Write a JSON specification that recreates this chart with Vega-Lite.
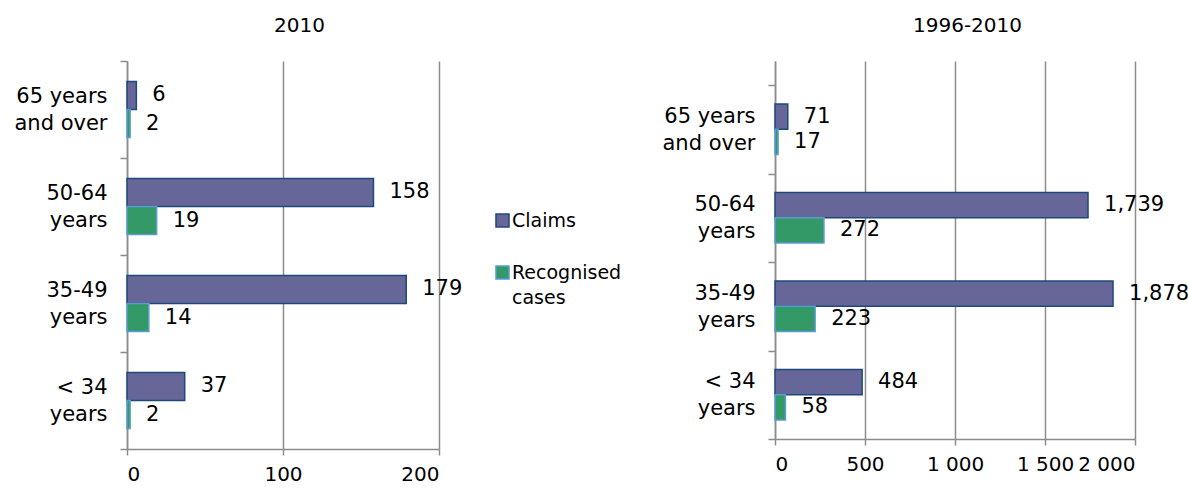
{
  "$schema": "https://vega.github.io/schema/vega-lite/v6.json",
  "background": "white",
  "padding": {"left": 13, "top": 15, "right": 5, "bottom": 0},
  "datasets": {
    "d2010": [
      {"age": "65 years and over", "series": "Claims", "value": 6},
      {"age": "65 years and over", "series": "Recognised cases", "value": 2},
      {"age": "50-64 years", "series": "Claims", "value": 158},
      {"age": "50-64 years", "series": "Recognised cases", "value": 19},
      {"age": "35-49 years", "series": "Claims", "value": 179},
      {"age": "35-49 years", "series": "Recognised cases", "value": 14},
      {"age": "< 34 years", "series": "Claims", "value": 37},
      {"age": "< 34 years", "series": "Recognised cases", "value": 2}
    ],
    "d1996": [
      {"age": "65 years and over", "series": "Claims", "value": 71},
      {"age": "65 years and over", "series": "Recognised cases", "value": 17},
      {"age": "50-64 years", "series": "Claims", "value": 1739},
      {"age": "50-64 years", "series": "Recognised cases", "value": 272},
      {"age": "35-49 years", "series": "Claims", "value": 1878},
      {"age": "35-49 years", "series": "Recognised cases", "value": 223},
      {"age": "< 34 years", "series": "Claims", "value": 484},
      {"age": "< 34 years", "series": "Recognised cases", "value": 58}
    ]
  },
  "config": {
    "font": "DejaVu Sans",
    "view": {"stroke": null},
    "axis": {
      "labelFont": "DejaVu Sans",
      "labelFontSize": 21,
      "labelColor": "#000000",
      "domainColor": "#8c8c8c",
      "domainWidth": 1.5,
      "tickColor": "#8c8c8c",
      "tickWidth": 1.5,
      "gridColor": "#8c8c8c",
      "gridWidth": 1.5,
      "gridOpacity": 1,
      "titleFont": "DejaVu Sans",
      "titleFontSize": 20,
      "titleFontWeight": "normal",
      "titleColor": "#000000"
    },
    "legend": {"labelFont": "DejaVu Sans", "labelFontSize": 19, "labelColor": "#000000"}
  },
  "spacing": 198,
  "hconcat": [
    {
      "width": 312,
      "height": 388,
      "data": {"name": "d2010"},
      "encoding": {
        "y": {
          "field": "age", "type": "nominal",
          "sort": ["65 years and over", "50-64 years", "35-49 years", "< 34 years"],
          "scale": {"paddingInner": 0, "paddingOuter": 0},
          "axis": {
            "title": null,
            "tickBand": "extent", "tickSize": 7, "labelPadding": 13, "grid": false,
            "labelLineHeight": 27, "labelBaseline": "middle", "labelOffset": -13,
            "labelExpr": "!datum.label ? '' : datum.label == '65 years and over' ? ['65 years', 'and over'] : [substring(datum.label, 0, indexof(datum.label, ' years')), 'years']"
          }
        },
        "yOffset": {
          "field": "series", "type": "nominal",
          "scale": {"paddingInner": 0, "paddingOuter": 0.73}
        },
        "x": {
          "field": "value", "type": "quantitative",
          "scale": {"domain": [0, 200], "nice": false},
          "axis": {"values": [0, 100, 200], "grid": true, "tickSize": 6, "labelPadding": 9, "labelFontSize": 20, "format": "d",
                   "title": "2010", "titleX": 172, "titleY": -424, "titleAlign": "center", "titleBaseline": "middle", "titleAnchor": null}
        }
      },
      "layer": [
        {
          "mark": {"type": "bar", "strokeWidth": 1.5},
          "encoding": {
            "color": {
              "field": "series", "type": "nominal",
              "scale": {"domain": ["Claims", "Recognised cases"], "range": ["#666699", "#339966"]},
              "legend": {
                "orient": "none", "legendX": 366, "legendY": 150, "title": null,
                "symbolType": "square", "symbolSize": 170, "symbolStrokeWidth": 1.5,
                "rowPadding": 31, "labelOffset": 0,
                "labelExpr": "datum.label == 'Recognised cases' ? ['Recognised', 'cases'] : datum.label",
                "encode": {"labels": {"update": {"lineHeight": {"value": 25}}}}
              }
            },
            "stroke": {
              "field": "series", "type": "nominal",
              "scale": {"domain": ["Claims", "Recognised cases"], "range": ["#1f497d", "#5b9bd5"]},
              "legend": {
                "orient": "none", "legendX": 366, "legendY": 150, "title": null,
                "symbolType": "square", "symbolSize": 170, "symbolStrokeWidth": 1.5,
                "rowPadding": 31, "labelOffset": 0,
                "labelExpr": "datum.label == 'Recognised cases' ? ['Recognised', 'cases'] : datum.label",
                "encode": {"labels": {"update": {"lineHeight": {"value": 25}}}}
              }
            }
          }
        },
        {
          "mark": {"type": "text", "align": "left", "baseline": "middle", "dx": 16, "fontSize": 21, "font": "DejaVu Sans", "color": "#000000"},
          "encoding": {"text": {"field": "value", "type": "quantitative", "format": "d"}}
        }
      ]
    },
    {
      "width": 360,
      "height": 378,
      "data": {"name": "d1996"},
      "encoding": {
        "y": {
          "field": "age", "type": "nominal",
          "sort": ["65 years and over", "50-64 years", "35-49 years", "< 34 years"],
          "scale": {"paddingInner": 0, "paddingOuter": 0.1356, "align": 1},
          "axis": {
            "title": null,
            "tickBand": "extent", "tickSize": 7, "labelPadding": 13, "grid": false,
            "labelLineHeight": 27, "labelBaseline": "middle", "labelOffset": -13,
            "labelExpr": "!datum.label ? '' : datum.label == '65 years and over' ? ['65 years', 'and over'] : [substring(datum.label, 0, indexof(datum.label, ' years')), 'years']"
          }
        },
        "yOffset": {
          "field": "series", "type": "nominal",
          "scale": {"paddingInner": 0, "paddingOuter": 0.75}
        },
        "x": {
          "field": "value", "type": "quantitative",
          "scale": {"domain": [0, 2000], "nice": false},
          "axis": {"values": [0, 500, 1000, 1500, 2000], "grid": true, "tickSize": 6, "labelPadding": 9, "labelFontSize": 20,
                   "labelExpr": "replace(format(datum.value, ','), ',', ' ')",
                   "title": "1996-2010", "titleX": 192, "titleY": -414, "titleAlign": "center", "titleBaseline": "middle", "titleAnchor": null}
        }
      },
      "layer": [
        {
          "mark": {"type": "bar", "strokeWidth": 1.5},
          "encoding": {
            "color": {
              "field": "series", "type": "nominal",
              "scale": {"domain": ["Claims", "Recognised cases"], "range": ["#666699", "#339966"]},
              "legend": {
                "orient": "none", "legendX": 366, "legendY": 150, "title": null,
                "symbolType": "square", "symbolSize": 170, "symbolStrokeWidth": 1.5,
                "rowPadding": 31, "labelOffset": 0,
                "labelExpr": "datum.label == 'Recognised cases' ? ['Recognised', 'cases'] : datum.label",
                "encode": {"labels": {"update": {"lineHeight": {"value": 25}}}}
              }
            },
            "stroke": {
              "field": "series", "type": "nominal",
              "scale": {"domain": ["Claims", "Recognised cases"], "range": ["#1f497d", "#5b9bd5"]},
              "legend": {
                "orient": "none", "legendX": 366, "legendY": 150, "title": null,
                "symbolType": "square", "symbolSize": 170, "symbolStrokeWidth": 1.5,
                "rowPadding": 31, "labelOffset": 0,
                "labelExpr": "datum.label == 'Recognised cases' ? ['Recognised', 'cases'] : datum.label",
                "encode": {"labels": {"update": {"lineHeight": {"value": 25}}}}
              }
            }
          }
        },
        {
          "mark": {"type": "text", "align": "left", "baseline": "middle", "dx": 16, "fontSize": 21, "font": "DejaVu Sans", "color": "#000000"},
          "encoding": {"text": {"field": "value", "type": "quantitative", "format": ","}}
        }
      ]
    }
  ],
  "resolve": {"scale": {"x": "independent", "y": "independent", "yOffset": "independent"}}
}
